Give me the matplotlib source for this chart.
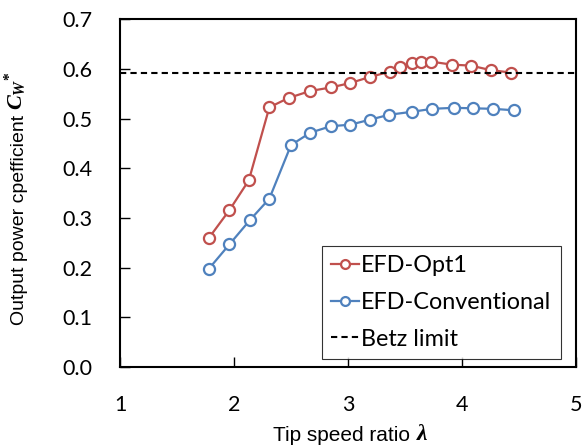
import matplotlib
matplotlib.use("Agg")
import matplotlib.pyplot as plt

# Tip speed ratio vs output power coefficient
tsr_opt1 = [1.78, 1.96, 2.13, 2.31, 2.48, 2.67, 2.85, 3.02, 3.19, 3.37,
            3.46, 3.56, 3.64, 3.73, 3.91, 4.08, 4.25, 4.43]
cw_opt1 = [0.260, 0.316, 0.376, 0.523, 0.542, 0.556, 0.563, 0.572, 0.584, 0.595,
           0.604, 0.613, 0.615, 0.615, 0.609, 0.607, 0.598, 0.593]

tsr_conv = [1.78, 1.96, 2.14, 2.31, 2.50, 2.67, 2.85, 3.02, 3.19, 3.36,
            3.56, 3.74, 3.93, 4.10, 4.27, 4.46]
cw_conv = [0.198, 0.247, 0.296, 0.339, 0.447, 0.472, 0.485, 0.488, 0.498, 0.508,
           0.514, 0.520, 0.522, 0.521, 0.520, 0.517]

betz = 16 / 27

C_RED, C_BLUE = "#C0504D", "#4F81BD"
plt.rcParams.update({
    "font.family": ["Lato", "DejaVu Sans"],
    # bold serif symbols for C_W*
    "mathtext.fontset": "custom",
    "mathtext.it": "Liberation Serif:italic:bold",
    "mathtext.rm": "Liberation Serif:bold",
    "mathtext.bf": "Liberation Serif:bold",
})

fig = plt.figure(figsize=(5.82, 4.45), dpi=100)
ax = fig.add_axes([0.2062, 0.1753, 0.7835, 0.781])

ax.plot(tsr_opt1, cw_opt1, "-o", color=C_RED, lw=1.6, ms=8, mfc="white",
        mec=C_RED, mew=1.6, label="EFD-Opt1")
ax.plot(tsr_conv, cw_conv, "-o", color=C_BLUE, lw=1.6, ms=8, mfc="white",
        mec=C_BLUE, mew=1.6, label="EFD-Conventional")
ax.axhline(betz, color="black", lw=1.5, ls=(0, (3, 2)), label="Betz limit")

ax.set_xlim(1, 5)
ax.set_ylim(0, 0.7)
ax.set_xticks([1, 2, 3, 4, 5])
ax.set_yticks([0.0, 0.1, 0.2, 0.3, 0.4, 0.5, 0.6, 0.7])
ax.set_yticklabels([f"{v:.1f}" for v in ax.get_yticks()])
ax.tick_params(direction="in", length=7, width=1, labelsize=15.5, pad=20)
for s in ax.spines.values():
    s.set_linewidth(1.5)

# axis titles
ax.set_xlabel("Tip speed ratio", fontsize=15, family=["Liberation Sans"], labelpad=8)
ax.xaxis.label.set_position((0.486, 0))
fig.text(0.7165, 0.012, "λ", fontsize=17, family=["Liberation Serif"],
         weight="bold", style="italic", ha="left", va="baseline")
fig.text(0.033, 0.506, "Output power cpefficient", rotation=90, fontsize=14,
         family=["Liberation Sans"], ha="center", va="center")
fig.text(0.027, 0.795, r"$C_W{}^{*}$", rotation=90,
         fontsize=16, ha="center", va="center")

leg = ax.legend(loc="lower right", bbox_to_anchor=(0.967, 0.023), borderaxespad=0,
                fontsize=16.8, frameon=True, fancybox=False, edgecolor="black",
                handlelength=1.2, handletextpad=0.1, borderpad=0.4,
                labelspacing=0.68, markerscale=0.8)
leg.get_frame().set_linewidth(0.8)

fig.savefig("out.png", dpi=100)
